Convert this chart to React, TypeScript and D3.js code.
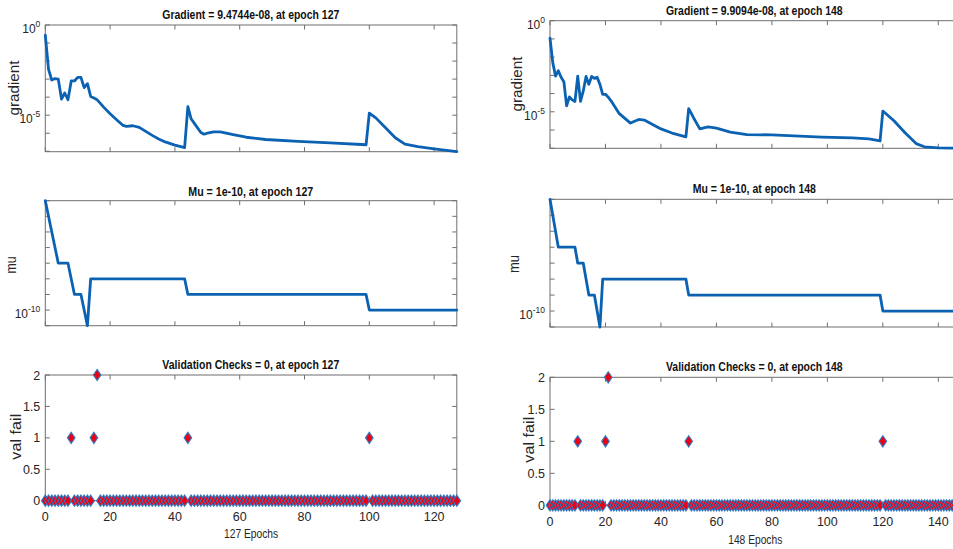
import React from "react";
import * as d3 from "d3";

// ---------------- data ----------------
const leftTotalEpochs = 127;
const rightTotalEpochs = 148;

const leftTitles = [
  "Gradient = 9.4744e-08, at epoch 127",
  "Mu = 1e-10, at epoch 127",
  "Validation Checks = 0, at epoch 127",
];
const rightTitles = [
  "Gradient = 9.9094e-08, at epoch 148",
  "Mu = 1e-10, at epoch 148",
  "Validation Checks = 0, at epoch 148",
];
const yLabels = ["gradient", "mu", "val fail"];
const leftXLabel = "127 Epochs";
const rightXLabel = "148 Epochs";

const leftGradEpochs = [0, 1, 2, 3, 4, 5, 6, 7, 8, 9, 10, 11, 12, 13, 14, 15, 16, 17, 18, 20, 22, 24, 25, 27, 29, 31, 33, 35, 37, 40, 43, 44, 45, 46, 48, 49, 50, 52, 54, 58, 62, 68, 78, 88, 99, 100, 102, 105, 108, 111, 115, 120, 127];
const leftGradValues = [2.75e-1, 3.5e-3, 8.9e-4, 1.07e-3, 1.0e-3, 7.9e-5, 1.7e-4, 7.2e-5, 7.9e-4, 7.9e-4, 1.26e-3, 1.26e-3, 3.4e-4, 5.6e-4, 1.1e-4, 8.9e-5, 7.1e-5, 4.5e-5, 2.8e-5, 1.2e-5, 5.6e-6, 2.7e-6, 2.4e-6, 2.6e-6, 2.1e-6, 1.26e-6, 7.6e-7, 4.8e-7, 3.3e-7, 2.2e-7, 1.6e-7, 3.0e-5, 6.3e-6, 3.5e-6, 1.1e-6, 8.9e-7, 1.0e-6, 1.2e-6, 1.2e-6, 8.3e-7, 6.0e-7, 4.5e-7, 3.5e-7, 2.9e-7, 2.3e-7, 1.3e-5, 7.1e-6, 2.0e-6, 5.6e-7, 2.5e-7, 1.8e-7, 1.35e-7, 9.4744e-8];

const rightGradEpochs = [0, 1, 2, 3, 4, 5, 6, 7, 8, 9, 10, 11, 12, 13, 14, 15, 16, 17, 18, 19, 20, 21, 22, 25, 29, 32, 34, 37, 40, 44, 49, 50, 51, 52, 54, 57, 60, 65, 71, 80, 98, 109, 115, 119, 120, 124, 128, 132, 135, 140, 148];
const rightGradValues = [1.1e-1, 5.0e-3, 9.1e-4, 1.8e-3, 7.9e-4, 4.5e-4, 2.1e-5, 6.6e-5, 4.5e-5, 3.7e-5, 9.1e-4, 3.7e-5, 1.4e-4, 8.7e-4, 3.2e-4, 8.7e-4, 6.8e-4, 7.9e-4, 3.2e-4, 9.1e-5, 9.1e-5, 6.3e-5, 4.0e-5, 7.9e-6, 2.4e-6, 3.8e-6, 3.5e-6, 2.0e-6, 1.15e-6, 6.8e-7, 4.2e-7, 1.5e-5, 7.9e-6, 4.0e-6, 1.15e-6, 1.5e-6, 1.26e-6, 7.6e-7, 5.6e-7, 5.4e-7, 4.1e-7, 3.7e-7, 3.3e-7, 2.5e-7, 1.1e-5, 3.2e-6, 7.1e-7, 1.8e-7, 1.2e-7, 1.05e-7, 9.9094e-8];

const leftMuEpochs = [0, 4, 7, 9, 11, 13, 14, 43, 44, 99, 100, 127];
const leftMuValues = [1e-3, 1e-7, 1e-7, 1e-9, 1e-9, 1e-11, 1e-8, 1e-8, 1e-9, 1e-9, 1e-10, 1e-10];
const rightMuEpochs = [0, 3, 9, 10, 12, 14, 16, 18, 19, 49, 50, 119, 120, 148];
const rightMuValues = [1e-3, 1e-6, 1e-6, 1e-7, 1e-7, 1e-9, 1e-9, 1e-11, 1e-8, 1e-8, 1e-9, 1e-9, 1e-10, 1e-10];

const leftFailEpochs = [8, 15, 16, 44, 100];
const leftFailCounts = [1, 1, 2, 1, 1];
const rightFailEpochs = [10, 20, 21, 50, 120];
const rightFailCounts = [1, 1, 2, 1, 1];

const xTickValues = [0, 20, 40, 60, 80, 100, 120, 140];
const valTickValues = [0, 0.5, 1, 1.5, 2];
const valTickLabels = ["0", "0.5", "1", "1.5", "2"];
const gradLabelExps = [0, -5];
const muLabelExps = [-10];
const muDomain: [number, number] = [1e-11, 1e-3];
const valDomain: [number, number] = [0, 2];

// ---------------- styles ----------------
const FONT = '"Liberation Sans", Arial, Helvetica, sans-serif';
const LINE = "#0b62b3";
const AXIS = "#6f6f6f";
const MARK_EDGE = "#2f78c2";
const MARK_FILL = "#ee0014";
const TEXT = "#262626";

type Side = {
  x0: number;
  x1: number;
  rows: [number, number][];
  total: number;
  titles: string[];
  titleX: number;
  titleY: number[];
  titleW: number[];
  ylabelX: number[];
  ylabelY: number[];
  ylabelLen: number[];
  xlabel: string;
  xlabelY: number;
  xlabelW: number;
  xtickY: number;
  gradE: number[];
  gradV: number[];
  muE: number[];
  muV: number[];
  failE: number[];
  failC: number[];
};

const LEFT: Side = {
  x0: 45.3,
  x1: 456.8,
  rows: [
    [25, 151.7],
    [200.7, 325.7],
    [375, 500.7],
  ],
  total: leftTotalEpochs,
  titles: leftTitles,
  titleX: 250.8,
  titleY: [19, 195.7, 368.5],
  titleW: [177, 125, 177],
  ylabelX: [19, 15.5, 21],
  ylabelY: [88, 265, 436.7],
  ylabelLen: [55, 17, 46],
  xlabel: leftXLabel,
  xlabelY: 538.3,
  xlabelW: 54,
  xtickY: 520.5,
  gradE: leftGradEpochs,
  gradV: leftGradValues,
  muE: leftMuEpochs,
  muV: leftMuValues,
  failE: leftFailEpochs,
  failC: leftFailCounts,
};

const RIGHT: Side = {
  x0: 550,
  x1: 960.5,
  rows: [
    [20.7, 148.3],
    [199.3, 327],
    [377.3, 505.3],
  ],
  total: rightTotalEpochs,
  titles: rightTitles,
  titleX: 754.3,
  titleY: [15.3, 193, 370.8],
  titleW: [176.7, 123.3, 176.7],
  ylabelX: [522, 519, 533.5],
  ylabelY: [84, 264, 439.7],
  ylabelLen: [55, 18, 46],
  xlabel: rightXLabel,
  xlabelY: 543.5,
  xlabelW: 54,
  xtickY: 526,
  gradE: rightGradEpochs,
  gradV: rightGradValues,
  muE: rightMuEpochs,
  muV: rightMuValues,
  failE: rightFailEpochs,
  failC: rightFailCounts,
};

const diamond = (w: number, h: number) => {
  const p = d3.path();
  p.moveTo(0, -h);
  p.lineTo(w, 0);
  p.lineTo(0, h);
  p.lineTo(-w, 0);
  p.closePath();
  return p.toString();
};

function Frame({
  xs,
  ys,
  x0,
  x1,
  y0,
  y1,
  yTicks,
}: {
  xs: d3.ScaleLinear<number, number>;
  ys: (v: number) => number;
  x0: number;
  x1: number;
  y0: number;
  y1: number;
  yTicks: number[];
}) {
  const T = 4.5;
  return (
    <g stroke={AXIS} strokeWidth={1} fill="none">
      <rect x={x0} y={y0} width={x1 - x0} height={y1 - y0} />
      {xTickValues
        .filter((t) => xs(t) <= x1 + 0.01)
        .map((t) => (
          <g key={"x" + t}>
            <line x1={xs(t)} x2={xs(t)} y1={y1} y2={y1 - T} />
            <line x1={xs(t)} x2={xs(t)} y1={y0} y2={y0 + T} />
          </g>
        ))}
      {yTicks.map((t) => (
        <g key={"y" + t}>
          <line x1={x0} x2={x0 + T} y1={ys(t)} y2={ys(t)} />
          <line x1={x1} x2={x1 - T} y1={ys(t)} y2={ys(t)} />
        </g>
      ))}
    </g>
  );
}

function Title({ x, y, w, text }: { x: number; y: number; w: number; text: string }) {
  return (
    <text
      x={x - w / 2}
      y={y}
      fontFamily={FONT}
      fontWeight="bold"
      fontSize={13.5}
      fill="#111"
      textLength={w}
      lengthAdjust="spacingAndGlyphs"
    >
      {text}
    </text>
  );
}

function YLabel({ x, y, len, text }: { x: number; y: number; len: number; text: string }) {
  return (
    <text
      transform={`translate(${x},${y}) rotate(-90)`}
      x={-len / 2}
      y={0}
      fontFamily={FONT}
      fontSize={14}
      fill={TEXT}
      textLength={len}
      lengthAdjust="spacingAndGlyphs"
    >
      {text}
    </text>
  );
}

function SidePanels({ s }: { s: Side }) {
  const xs = d3.scaleLinear().domain([0, s.total]).range([s.x0, s.x1]);

  // gradient
  const [g0, g1] = s.rows[0];
  const gMin = s.gradV[s.gradV.length - 1];
  const ysG = d3.scaleLog().domain([gMin, 1]).range([g1, g0]);
  const gTicks = d3
    .range(Math.ceil(Math.log10(gMin) - 1e-9), 1)
    .map((e) => Math.pow(10, e));
  const gLine = d3
    .line<number>()
    .x((_, i) => xs(s.gradE[i]))
    .y((v) => ysG(v));

  // mu
  const [m0, m1] = s.rows[1];
  const ysM = d3.scaleLog().domain(muDomain).range([m1, m0]);
  const mTicks = d3.range(-11, -2).map((e) => Math.pow(10, e));
  const mLine = d3
    .line<number>()
    .x((_, i) => xs(s.muE[i]))
    .y((v) => ysM(v));

  // val fail
  const [v0, v1] = s.rows[2];
  const ysV = d3.scaleLinear().domain(valDomain).range([v1, v0]);
  const failMap = new Map<number, number>();
  s.failE.forEach((e, i) => failMap.set(e, s.failC[i]));
  const valPoints = d3.range(0, s.total + 1).map((e) => [e, failMap.get(e) ?? 0] as [number, number]);
  const dPath = diamond(3.8, 5.6);

  const supLabel = (e: number, ys: (v: number) => number, key: string) => (
    <text
      key={key}
      x={s.x0 - 5}
      y={ys(Math.pow(10, e)) + 8}
      textAnchor="end"
      fontFamily={FONT}
      fontSize={12}
      fill={TEXT}
    >
      10
      <tspan dy={-6} fontSize={8.5}>
        {String(e)}
      </tspan>
    </text>
  );

  return (
    <g>
      {s.titles.map((t, i) => (
        <Title key={t} x={s.titleX} y={s.titleY[i]} w={s.titleW[i]} text={t} />
      ))}
      {yLabels.map((t, i) => (
        <YLabel key={t} x={s.ylabelX[i]} y={s.ylabelY[i]} len={s.ylabelLen[i]} text={t} />
      ))}

      {/* gradient panel */}
      <Frame xs={xs} ys={ysG} x0={s.x0} x1={s.x1} y0={g0} y1={g1} yTicks={gTicks} />
      {gradLabelExps.map((e) => supLabel(e, ysG, "g" + e))}
      <path
        d={gLine(s.gradV) || ""}
        fill="none"
        stroke={LINE}
        strokeWidth={2.8}
        strokeLinejoin="round"
        strokeLinecap="round"
      />

      {/* mu panel */}
      <Frame xs={xs} ys={ysM} x0={s.x0} x1={s.x1} y0={m0} y1={m1} yTicks={mTicks} />
      {muLabelExps.map((e) => supLabel(e, ysM, "m" + e))}
      <path
        d={mLine(s.muV) || ""}
        fill="none"
        stroke={LINE}
        strokeWidth={2.8}
        strokeLinejoin="round"
        strokeLinecap="round"
      />

      {/* val fail panel */}
      <Frame xs={xs} ys={ysV} x0={s.x0} x1={s.x1} y0={v0} y1={v1} yTicks={valTickValues} />
      {valTickValues.map((t, i) => (
        <text
          key={"vt" + t}
          x={s.x0 - 5}
          y={ysV(t) + 4.5}
          textAnchor="end"
          fontFamily={FONT}
          fontSize={12.5}
          fill={TEXT}
        >
          {valTickLabels[i]}
        </text>
      ))}
      {xTickValues
        .filter((t) => t <= s.total)
        .map((t) => (
          <text
            key={"xt" + t}
            x={xs(t)}
            y={s.xtickY}
            textAnchor="middle"
            fontFamily={FONT}
            fontSize={12.5}
            fill={TEXT}
          >
            {t}
          </text>
        ))}
      <text
        x={xs(s.total / 2) - s.xlabelW / 2}
        y={s.xlabelY}
        fontFamily={FONT}
        fontSize={13}
        fill={TEXT}
        textLength={s.xlabelW}
        lengthAdjust="spacingAndGlyphs"
      >
        {s.xlabel}
      </text>
      {valPoints.map(([e, v]) => (
        <path
          key={"d" + e}
          d={dPath}
          transform={`translate(${xs(e)},${ysV(v)})`}
          fill={MARK_FILL}
          stroke={MARK_EDGE}
          strokeWidth={1.1}
        />
      ))}
    </g>
  );
}

export default function App() {
  return (
    <svg
      width={953}
      height={549}
      viewBox="0 0 953 549"
      style={{ position: "absolute", left: 0, top: 0, background: "#fff", overflow: "hidden" }}
    >
      <rect x={0} y={0} width={953} height={549} fill="#fff" />
      <SidePanels s={LEFT} />
      <SidePanels s={RIGHT} />
    </svg>
  );
}
